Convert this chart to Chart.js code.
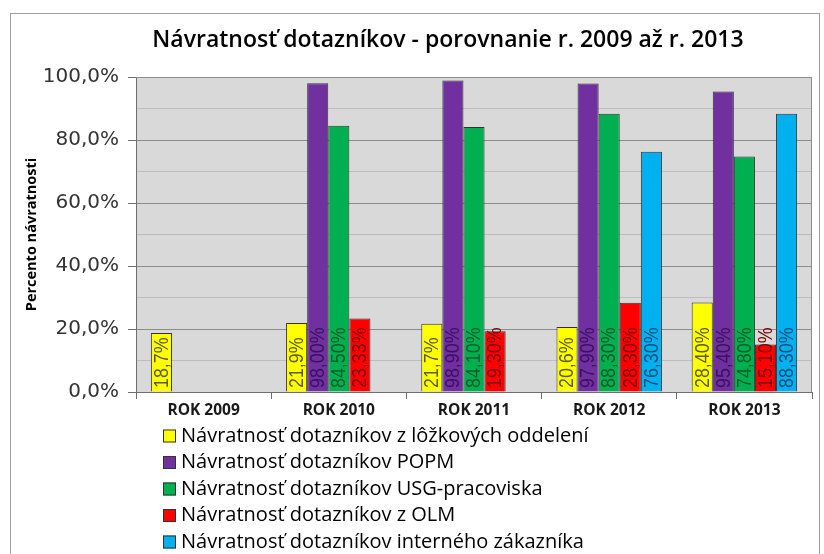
<!DOCTYPE html>
<html>
<head>
<meta charset="utf-8">
<script src="https://cdn.jsdelivr.net/npm/chart.js@4/dist/chart.umd.min.js"></script>
<style>
  html, body { margin: 0; padding: 0; background: #fff; }
  #wrap { width: 824px; height: 554px; }
</style>
</head>
<body>
<div id="wrap"><canvas id="canvas" width="824" height="554"></canvas></div>
<script>
var years = ['ROK 2009', 'ROK 2010', 'ROK 2011', 'ROK 2012', 'ROK 2013'];

var seriesNames = [
  'Návratnosť dotazníkov z lôžkových oddelení',
  'Návratnosť dotazníkov POPM',
  'Návratnosť dotazníkov USG-pracoviska',
  'Návratnosť dotazníkov z OLM',
  'Návratnosť dotazníkov interného zákazníka'
];

var lozkove = [18.7, 21.9, 21.7, 20.6, 28.4];
var popm    = [null, 98.0, 98.9, 97.9, 95.4];
var usg     = [null, 84.5, 84.1, 88.3, 74.8];
var olm     = [null, 23.33, 19.3, 28.3, 15.1];
var interne = [null, null, null, 76.3, 88.3];

// texty popiskov v stlpcoch (ako v povodnom grafe)
var lozkoveText = ['18,7%', '21,9%', '21,7%', '20,6%', '28,40%'];
var popmText    = ['', '98,00%', '98,90%', '97,90%', '95,40%'];
var usgText     = ['', '84,50%', '84,10%', '88,30%', '74,80%'];
var olmText     = ['', '23,33%', '19,30%', '28,30%', '15,10%'];
var interneText = ['', '', '', '76,30%', '88,30%'];

var yTicks = [0, 20, 40, 60, 80, 100];
var titleText = 'Návratnosť dotazníkov - porovnanie r. 2009 až r. 2013';

var fills  = ['#ffff00', '#7030a0', '#00b050', '#ff0000', '#00b0f0'];
var inks   = ['#5c5c00', '#3a1060', '#005c28', '#7a0000', '#00507a'];

var values = [lozkove, popm, usg, olm, interne];
var texts  = [lozkoveText, popmText, usgText, olmText, interneText];

var datasets = values.map(function(v, i) {
  return {
    label: seriesNames[i],
    data: v,
    backgroundColor: fills[i],
    borderColor: '#333333',
    borderWidth: 1,
    labelTexts: texts[i],
    labelInk: inks[i]
  };
});

var frame = {
  id: 'frame',
  beforeDraw: function(chart) {
    var c = chart.ctx, a = chart.chartArea;
    c.save();
    c.fillStyle = '#ffffff';
    c.fillRect(0, 0, chart.width, chart.height);
    c.strokeStyle = '#a0a0a0';
    c.lineWidth = 1;
    c.strokeRect(10.5, 13.5, 809, 560);
    c.fillStyle = '#d9d9d9';
    c.fillRect(a.left, a.top, a.right - a.left, a.bottom - a.top);

    // nadpis
    c.fillStyle = '#000000';
    c.font = '600 23px "Open Sans", sans-serif';
    c.textAlign = 'center';
    c.textBaseline = 'middle';
    c.fillText(titleText, 448, 40);
    c.restore();
  },
  afterDatasetsDraw: function(chart) {
    var c = chart.ctx, a = chart.chartArea;
    c.save();
    // horny a pravy okraj plochy grafu
    c.strokeStyle = '#8c8c8c';
    c.lineWidth = 1;
    c.beginPath();
    c.moveTo(a.left, a.top + 0.5);
    c.lineTo(a.right - 0.5, a.top + 0.5);
    c.lineTo(a.right - 0.5, a.bottom);
    c.stroke();

    // popisky hodnot, otocene o 90 stupnov
    c.font = '21px "Liberation Sans", sans-serif';
    c.textAlign = 'left';
    c.textBaseline = 'middle';
    chart.data.datasets.forEach(function(ds, i) {
      var meta = chart.getDatasetMeta(i);
      meta.data.forEach(function(bar, j) {
        var t = ds.labelTexts[j];
        if (!t) return;
        c.save();
        c.translate(bar.x + 0.5, a.bottom - 4);
        c.rotate(-Math.PI / 2);
        c.scale(0.85, 1);
        c.fillStyle = ds.labelInk;
        c.fillText(t, 0, 0);
        c.restore();
      });
    });

    // legenda pod grafom
    c.font = '20px "Open Sans", sans-serif';
    c.textAlign = 'left';
    c.textBaseline = 'middle';
    chart.data.datasets.forEach(function(ds, i) {
      var y = a.bottom + 44 + i * 26.5;
      c.fillStyle = ds.backgroundColor;
      c.fillRect(163, y - 6.5, 13, 13);
      c.strokeStyle = '#333333';
      c.strokeRect(163.5, y - 6, 12, 12);
      c.fillStyle = '#000000';
      c.fillText(ds.label, 181, y);
    });
    c.restore();
  }
};

var ctx = document.getElementById('canvas').getContext('2d');
var chart = new Chart(ctx, {
  type: 'bar',
  data: { labels: years, datasets: datasets },
  options: {
    responsive: false,
    animation: false,
    layout: { padding: { left: 0, right: 12, top: 77, bottom: 0 } },
    datasets: {
      bar: { categoryPercentage: 0.78, barPercentage: 1.0 }
    },
    plugins: {
      legend: { display: false },
      tooltip: { enabled: false },
      title: { display: false }
    },
    scales: {
      x: {
        grid: {
          offset: true,
          drawOnChartArea: false,
          tickLength: 7,
          color: '#6e6e6e'
        },
        border: { color: '#6e6e6e' },
        ticks: {
          color: '#1a1a1a',
          padding: 2,
          font: { family: '"Open Sans", sans-serif', size: 15.5, weight: 'bold' }
        },
        afterFit: function(scale) { scale.height = 162; }
      },
      y: {
        min: 0,
        max: 100,
        ticks: {
          stepSize: 10,
          autoSkip: false,
          color: '#333333',
          padding: 9,
          font: { family: '"DejaVu Sans", sans-serif', size: 20 },
          callback: function(v) {
            return yTicks.indexOf(v) >= 0 ? v.toFixed(1).replace('.', ',') + '%' : '';
          }
        },
        grid: {
          tickLength: 8,
          color: function(c) { return c.tick.value % 20 === 0 ? '#8c8c8c' : '#bdbdbd'; },
          tickColor: function(c) { return c.tick.value % 20 === 0 ? '#6e6e6e' : 'rgba(0,0,0,0)'; }
        },
        border: { color: '#6e6e6e' },
        title: {
          display: true,
          text: 'Percento návratnosti',
          color: '#000000',
          font: { family: '"Open Sans", sans-serif', size: 14.5, weight: 'bold' },
          padding: { top: 23, bottom: 0 }
        },
        afterFit: function(scale) { scale.width = 136; }
      }
    }
  },
  plugins: [frame]
});
</script>
</body>
</html>
